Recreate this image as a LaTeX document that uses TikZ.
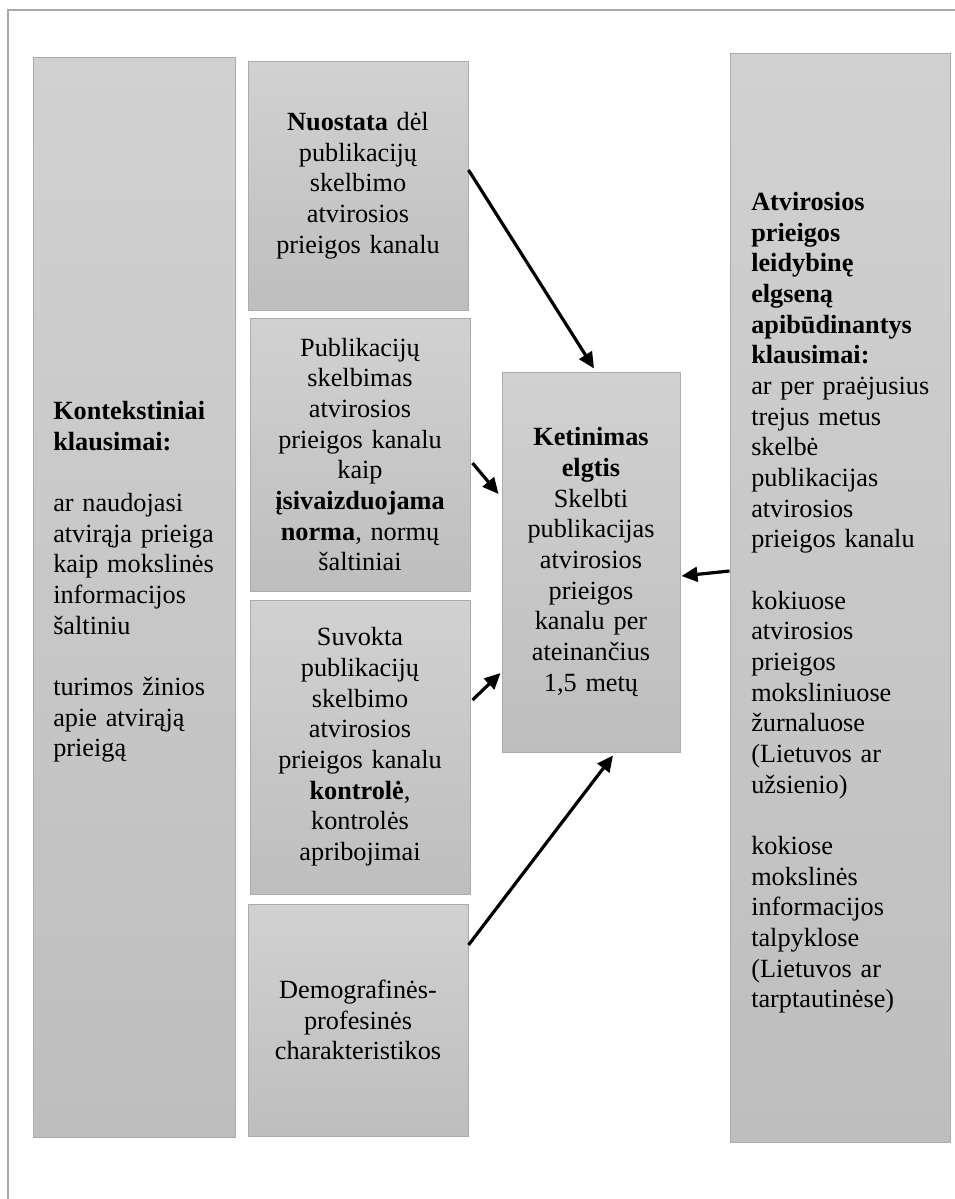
\documentclass[tikz,border=0pt]{standalone}
\usepackage{fontspec}
\setmainfont{Liberation Serif}
\usetikzlibrary{arrows.meta,calc}
\definecolor{boxtop}{gray}{0.82}
\definecolor{boxbot}{gray}{0.745}
\definecolor{boxline}{gray}{0.67}
\definecolor{frameline}{gray}{0.66}
\begin{document}
\begin{tikzpicture}[x=0.75pt,y=-0.75pt,
  box/.style={draw=boxline, line width=0.75pt, top color=boxtop, bottom color=boxbot,
    inner sep=0pt, align=center, font=\fontsize{19.7}{23}\selectfont},
  ltext/.style={align=left, inner sep=0pt, anchor=north west,
    font=\fontsize{19.7}{23}\selectfont},
  arr/.style={line width=2.4pt, -{Triangle[length=12pt,width=11pt]}}]
\useasboundingbox (0,0) rectangle (955,1199);
\fill[white] (0,0) rectangle (955,1199);
% outer frame
\draw[frameline, line width=1.5pt] (8,1199) -- (8,10) -- (955,10);

% left box
\node[box, minimum width=151.5pt, minimum height=810pt] (ctx) at (134,597) {};
\node[ltext, text width=140pt] (ctxt) at (53,401) {\textbf{Kontekstiniai}\\
\textbf{klausimai:}\\
~\\
ar naudojasi\\
atvirąja prieiga\\
kaip mokslinės\\
informacijos\\
šaltiniu\\
~\\
turimos žinios\\
apie atvirąją\\
prieigą};

% middle boxes
\node[box, minimum width=165pt, minimum height=186.75pt, text width=160pt] (n1) at (358,185.5)
  {\textbf{Nuostata} dėl\\ publikacijų\\ skelbimo\\ atvirosios\\ prieigos kanalu};
\node[box, minimum width=165pt, minimum height=204.75pt, text width=160pt] (n2) at (360,454.5)
  {Publikacijų\\ skelbimas\\ atvirosios\\ prieigos kanalu\\ kaip\\ \textbf{įsivaizduojama}\\ \textbf{norma}, normų\\ šaltiniai};
\node[box, minimum width=165pt, minimum height=220.5pt, text width=160pt] (n3) at (360,747)
  {Suvokta\\ publikacijų\\ skelbimo\\ atvirosios\\ prieigos kanalu\\ \textbf{kontrolė},\\ kontrolės\\ apribojimai};
\node[box, minimum width=165pt, minimum height=174pt, text width=160pt] (n4) at (358,1020)
  {Demografinės-\\ profesinės\\ charakteristikos};

% center box
\node[box, minimum width=133.5pt, minimum height=285pt, text width=128pt] (ctr) at (591,562)
  {\textbf{Ketinimas}\\ \textbf{elgtis}\\ Skelbti\\ publikacijas\\ atvirosios\\ prieigos\\ kanalu per\\ ateinančius\\ 1,5 metų};

% right box
\node[box, minimum width=165pt, minimum height=816.75pt] (rb) at (840,597.5) {};
\node[ltext, text width=150pt] (rtxt) at (751,192) {\textbf{Atvirosios}\\
\textbf{prieigos}\\
\textbf{leidybinę}\\
\textbf{elgseną}\\
\textbf{apibūdinantys}\\
\textbf{klausimai:}\\
ar per praėjusius\\
trejus metus\\
skelbė\\
publikacijas\\
atvirosios\\
prieigos kanalu\\
~\\
kokiuose\\
atvirosios\\
prieigos\\
moksliniuose\\
žurnaluose\\
(Lietuvos ar\\
užsienio)\\
~\\
kokiose\\
mokslinės\\
informacijos\\
talpyklose\\
(Lietuvos ar\\
tarptautinėse)};

% arrows
\draw[arr] ($(n1.east)+(0,-15.5)$) -- ($(ctr.north)+(3,-3)$);
\draw[arr] ($(n2.east)+(2,8.5)$) -- ($(ctr.west)+(-3,-68)$);
\draw[arr] ($(n3.east)+(2,-47)$) -- ($(ctr.west)+(-1,111)$);
\draw[arr] ($(n4.east)+(0,-75)$) -- ($(ctr.south)+(22,3)$);
\draw[arr] ($(rb.west)+(0,-26.5)$) -- ($(ctr.east)+(1,14)$);
\end{tikzpicture}
\end{document}
